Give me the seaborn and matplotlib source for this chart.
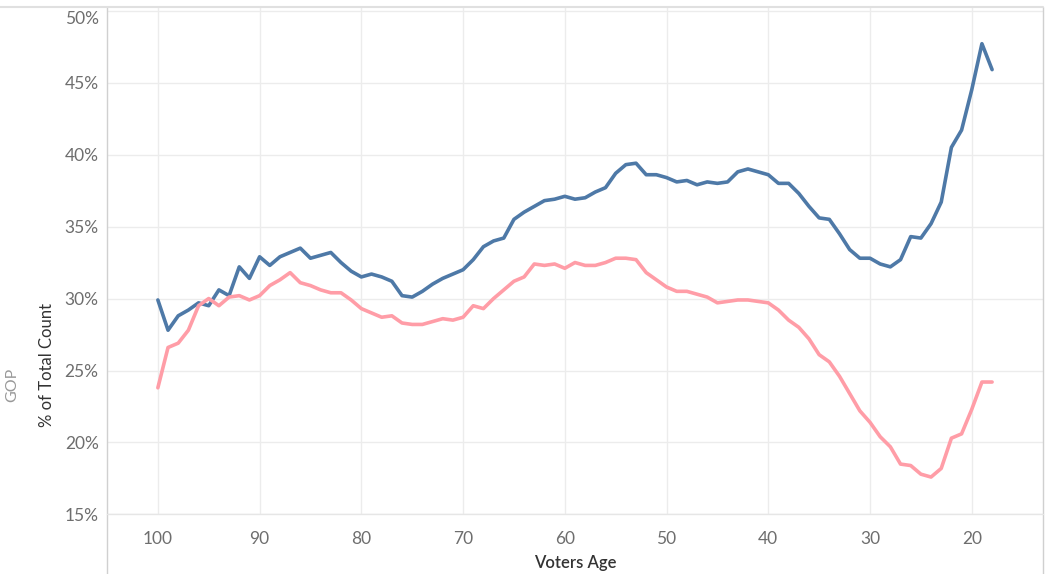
import numpy as np
import pandas as pd
import matplotlib.pyplot as plt
import seaborn as sns
from matplotlib.lines import Line2D
from matplotlib.ticker import FuncFormatter
from matplotlib.transforms import ScaledTranslation

# voter age runs from 100 down to 18
ages = list(range(100, 17, -1))

blue_pct = [29.9, 27.8, 28.8, 29.2, 29.7, 29.5, 30.6, 30.2, 32.2, 31.4,
            32.9, 32.3, 32.9, 33.2, 33.5, 32.8, 33.0, 33.2, 32.5, 31.9,
            31.5, 31.7, 31.5, 31.2, 30.2, 30.1, 30.5, 31.0, 31.4, 31.7,
            32.0, 32.7, 33.6, 34.0, 34.2, 35.5, 36.0, 36.4, 36.8, 36.9,
            37.1, 36.9, 37.0, 37.4, 37.7, 38.7, 39.3, 39.4, 38.6, 38.6,
            38.4, 38.1, 38.2, 37.9, 38.1, 38.0, 38.1, 38.8, 39.0, 38.8,
            38.6, 38.0, 38.0, 37.3, 36.4, 35.6, 35.5, 34.5, 33.4, 32.8,
            32.8, 32.4, 32.2, 32.7, 34.3, 34.2, 35.2, 36.7, 40.5, 41.7,
            44.5, 47.7, 45.9]

pink_pct = [23.8, 26.6, 26.9, 27.8, 29.5, 30.0, 29.5, 30.1, 30.2, 29.9,
            30.2, 30.9, 31.3, 31.8, 31.1, 30.9, 30.6, 30.4, 30.4, 29.9,
            29.3, 29.0, 28.7, 28.8, 28.3, 28.2, 28.2, 28.4, 28.6, 28.5,
            28.7, 29.5, 29.3, 30.0, 30.6, 31.2, 31.5, 32.4, 32.3, 32.4,
            32.1, 32.5, 32.3, 32.3, 32.5, 32.8, 32.8, 32.7, 31.8, 31.3,
            30.8, 30.5, 30.5, 30.3, 30.1, 29.7, 29.8, 29.9, 29.9, 29.8,
            29.7, 29.2, 28.5, 28.0, 27.2, 26.1, 25.6, 24.6, 23.4, 22.2,
            21.4, 20.4, 19.7, 18.5, 18.4, 17.8, 17.6, 18.2, 20.3, 20.6,
            22.3, 24.2, 24.2]

df = pd.concat([
    pd.DataFrame({'age': ages, 'pct': blue_pct, 'group': 'blue'}),
    pd.DataFrame({'age': ages, 'pct': pink_pct, 'group': 'pink'}),
])

sns.set_style('white')
plt.rcParams['font.family'] = ['Lato', 'DejaVu Sans']

fig = plt.figure(figsize=(10.5, 5.74), dpi=100)
ax = fig.add_axes([0.1019, 0.1037, 0.8914, 0.8841])

sns.lineplot(data=df, x='age', y='pct', hue='group',
             palette={'blue': '#4e79a7', 'pink': '#ff9da7'},
             linewidth=2.6, legend=False, ax=ax)

ax.set_xlim(105, 13)
ax.set_ylim(15, 50.25)
ax.set_xticks(np.arange(100, 19, -10))
ax.set_yticks(np.arange(15, 51, 5))
ax.yaxis.set_major_formatter(FuncFormatter(lambda v, p: f'{v:.0f}%'))
ax.grid(True, color='#ececec', linewidth=1)
ax.set_axisbelow(True)
for s in ax.spines.values():
    s.set_visible(False)
ax.tick_params(axis='both', length=0, labelsize=12.5, labelcolor='#6e6e6e')
ax.tick_params(axis='x', pad=12)
ax.tick_params(axis='y', pad=6)

# top label is pushed down a little so it stays inside the pane
fig.canvas.draw()
top_lbl = ax.get_yticklabels()[-1]
top_lbl.set_transform(top_lbl.get_transform() + ScaledTranslation(0, -7 / 100, fig.dpi_scale_trans))

ax.set_xlabel('Voters Age', fontsize=12, color='#333333', fontweight='semibold')
ax.xaxis.set_label_coords(0.5, -0.08)
ax.set_ylabel('% of Total Count', fontsize=12, color='#333333')
ax.yaxis.set_label_coords(-0.056, 0.295)

fig.text(0.012, 0.33, 'GOP', rotation=90, fontsize=11.5, color='#999999',
         ha='center', va='center')

# pane borders, the side lines run down to the bottom edge
fig.add_artist(Line2D([0.1019, 0.1019], [0.0, 0.9878], color='#d0d0d0', lw=1))
fig.add_artist(Line2D([0.9933, 0.9933], [0.0, 0.9878], color='#d0d0d0', lw=1))
fig.add_artist(Line2D([0.0, 0.9933], [0.9878, 0.9878], color='#e0e0e0', lw=1.5))
fig.add_artist(Line2D([0.1019, 0.9933], [0.1037, 0.1037], color='#e6e6e6', lw=1))

fig.savefig('out.png', dpi=100)
